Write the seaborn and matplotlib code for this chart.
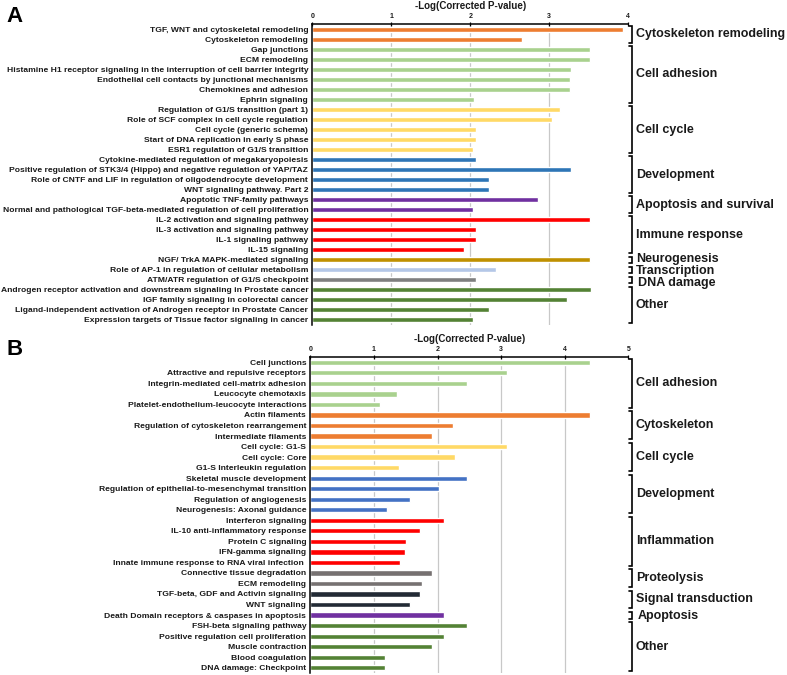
import matplotlib
matplotlib.use("Agg")
import matplotlib.pyplot as plt
import matplotlib.transforms as mtransforms
import seaborn as sns
import pandas as pd

# ---------------- Panel A data ----------------
a_labels = [
    "TGF, WNT and cytoskeletal remodeling",
    "Cytoskeleton remodeling",
    "Gap junctions",
    "ECM remodeling",
    "Histamine H1 receptor signaling in the interruption of cell barrier integrity",
    "Endothelial cell contacts by junctional mechanisms",
    "Chemokines and adhesion",
    "Ephrin signaling",
    "Regulation of G1/S transition (part 1)",
    "Role of SCF complex in cell cycle regulation",
    "Cell cycle (generic schema)",
    "Start of DNA replication in early S phase",
    "ESR1 regulation of G1/S transition",
    "Cytokine-mediated regulation of megakaryopoiesis",
    "Positive regulation of STK3/4 (Hippo) and negative regulation of YAP/TAZ",
    "Role of CNTF and LIF in regulation of oligodendrocyte development",
    "WNT signaling pathway. Part 2",
    "Apoptotic TNF-family pathways",
    "Normal and pathological TGF-beta-mediated regulation of cell proliferation",
    "IL-2 activation and signaling pathway",
    "IL-3 activation and signaling pathway",
    "IL-1 signaling pathway",
    "IL-15 signaling",
    "NGF/ TrkA MAPK-mediated signaling",
    "Role of AP-1 in regulation of cellular metabolism",
    "ATM/ATR regulation of G1/S checkpoint",
    "Androgen receptor activation and downstream signaling in Prostate cancer",
    "IGF family signaling in colorectal cancer",
    "Ligand-independent activation of Androgen receptor in Prostate Cancer",
    "Expression targets of Tissue factor signaling in cancer",
]
a_values = [3.93, 2.65, 3.52, 3.52, 3.27, 3.26, 3.26, 2.05, 3.13, 3.04,
            2.07, 2.07, 2.04, 2.07, 3.27, 2.24, 2.24, 2.86, 2.04, 3.52,
            2.07, 2.07, 1.92, 3.52, 2.32, 2.07, 3.53, 3.22, 2.24, 2.04]
a_groups = ["Cytoskeleton remodeling", "Cell adhesion", "Cell cycle", "Development",
            "Apoptosis and survival", "Immune response", "Neurogenesis",
            "Transcription", "DNA damage", "Other"]
a_group_sizes = [2, 6, 5, 4, 2, 4, 1, 1, 1, 4]
a_group_colors = ["#ED7D31", "#A9D18E", "#FFD966", "#2E75B6", "#7030A0",
                  "#FF0000", "#BF9000", "#B4C7E7", "#7F7F7F", "#548235"]

# ---------------- Panel B data ----------------
b_labels = [
    "Cell junctions",
    "Attractive and repulsive receptors",
    "Integrin-mediated cell-matrix adhesion",
    "Leucocyte chemotaxis",
    "Platelet-endothelium-leucocyte interactions",
    "Actin filaments",
    "Regulation of cytoskeleton rearrangement",
    "Intermediate filaments",
    "Cell cycle: G1-S",
    "Cell cycle: Core",
    "G1-S Interleukin regulation",
    "Skeletal muscle development",
    "Regulation of epithelial-to-mesenchymal transition",
    "Regulation of angiogenesis",
    "Neurogenesis: Axonal guidance",
    "Interferon signaling",
    "IL-10 anti-inflammatory response",
    "Protein C signaling",
    "IFN-gamma signaling",
    "Innate immune response to RNA viral infection ",
    "Connective tissue degradation",
    "ECM remodeling",
    "TGF-beta, GDF and Activin signaling",
    "WNT signaling",
    "Death Domain receptors & caspases in apoptosis",
    "FSH-beta signaling pathway",
    "Positive regulation cell proliferation",
    "Muscle contraction",
    "Blood coagulation",
    "DNA damage: Checkpoint",
]
b_values = [4.39, 3.09, 2.46, 1.36, 1.09, 4.39, 2.25, 1.91, 3.09, 2.27,
            1.39, 2.46, 2.03, 1.56, 1.20, 2.10, 1.73, 1.51, 1.49, 1.41,
            1.91, 1.76, 1.73, 1.56, 2.10, 2.46, 2.10, 1.91, 1.18, 1.17]
b_groups = ["Cell adhesion", "Cytoskeleton", "Cell cycle", "Development",
            "Inflammation", "Proteolysis", "Signal transduction", "Apoptosis", "Other"]
b_group_sizes = [5, 3, 3, 4, 5, 2, 2, 1, 5]
b_group_colors = ["#A9D18E", "#ED7D31", "#FFD966", "#4472C4", "#FF0000",
                  "#767171", "#222A35", "#7030A0", "#548235"]

x_title = "-Log(Corrected P-value)"
FONT = "Liberation Sans"
TXT = "#1a1a1a"

W, H = 787, 675
fig = plt.figure(figsize=(W / 100, H / 100), dpi=100)
sns.set_style("white")
plt.rcParams["font.family"] = [FONT, "DejaVu Sans"]


def draw_panel(ax, labels, values, groups, sizes, gcolors, xmax, bar_w, label_shift):
    colors = []
    for c, n in zip(gcolors, sizes):
        colors += [c] * n
    df = pd.DataFrame({"label": labels, "value": values})
    pal = dict(zip(labels, colors))
    sns.barplot(data=df, x="value", y="label", hue="label", palette=pal,
                legend=False, ax=ax, orient="h", width=bar_w, saturation=1)
    n = len(labels)
    ax.set_xlim(0, xmax)
    ax.set_ylim(n - 0.5, -0.5)
    for xv in range(1, xmax):
        ax.axvline(xv, color="#c8c8c8", lw=0.9, zorder=0)
    ax.xaxis.tick_top()
    ax.xaxis.set_label_position("top")
    ax.set_xticks(range(0, xmax + 1))
    ax.set_xticklabels([str(i) for i in range(0, xmax + 1)],
                       fontsize=5, fontweight="bold", color=TXT)
    ax.tick_params(axis="x", direction="inout", length=3, width=0.9, pad=1.5,
                   color="black")
    ax.set_xlabel(x_title, fontsize=7, fontweight="bold", color=TXT, labelpad=3)
    ax.set_ylabel("")
    ax.set_yticks(range(n))
    ax.set_yticklabels(labels, fontsize=6.1, fontweight="bold", color=TXT)
    ax.set_yticks([i + 0.5 for i in range(-1, n)], minor=True)
    ax.tick_params(axis="y", which="major", length=0, pad=3)
    ax.tick_params(axis="y", which="minor", length=2.5, width=0.8,
                   direction="out", color="black")
    for s in ["right", "bottom"]:
        ax.spines[s].set_visible(False)
    for s in ["top", "left"]:
        ax.spines[s].set_visible(True)
        ax.spines[s].set_color("black")
        ax.spines[s].set_linewidth(1.1)
    ax.set_facecolor("white")

    trans = mtransforms.blended_transform_factory(ax.transAxes, ax.transData)
    start = 0
    for g, nrow in zip(groups, sizes):
        y0 = start - 0.33
        y1 = start + nrow - 1 + 0.33
        xv, xe = 1.012, 1.003
        ax.plot([xe, xv, xv, xe], [y0, y0, y1, y1], color="black", lw=1.2,
                transform=trans, clip_on=False, solid_joinstyle="miter")
        dx, dy = label_shift.get(g, (0.0, 0.0))
        ax.text(1.024 + dx, (y0 + y1) / 2 + dy, g, transform=trans, fontsize=9,
                fontweight="bold", color=TXT, va="center", ha="left")
        start += nrow


axA = fig.add_axes([312.3 / W, 1 - 325.0 / H, 316.0 / W, 300.7 / H])
draw_panel(axA, a_labels, a_values, a_groups, a_group_sizes, a_group_colors, 4, 0.5,
           {"Neurogenesis": (0.0, -0.05), "Transcription": (0.0, 0.15),
            "DNA damage": (0.006, 0.35)})

axB = fig.add_axes([310.3 / W, 1 - 673.0 / H, 318.0 / W, 316.0 / H])
draw_panel(axB, b_labels, b_values, b_groups, b_group_sizes, b_group_colors, 5, 0.5,
           {"Apoptosis": (0.006, 0.1)})

fig.text(6 / W, 1 - 22 / H, "A", fontsize=16, fontweight="bold", color="black",
         va="baseline")
fig.text(6 / W, 1 - 355 / H, "B", fontsize=16, fontweight="bold", color="black",
         va="baseline")

fig.savefig("out.png", dpi=100, facecolor="white")
